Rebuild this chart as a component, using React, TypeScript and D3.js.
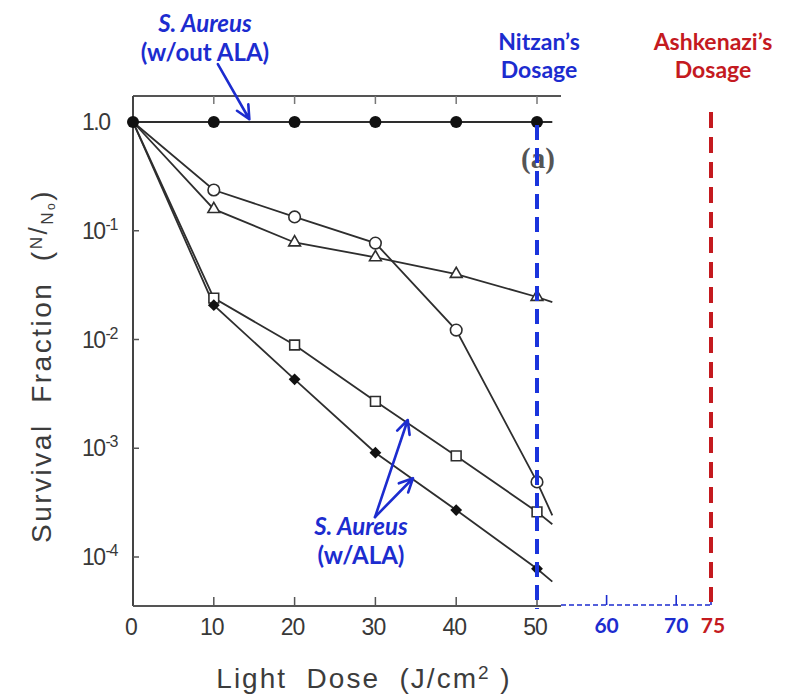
import React, { useEffect, useRef } from 'react';
import * as d3 from 'd3';

// light dose (J/cm2) at which survival was measured
const doses = [0, 10, 20, 30, 40, 50];

// survival fraction N/N0 for each curve
const aureusNoAla = [1.0, 1.0, 1.0, 1.0, 1.0, 1.0];
const openCircles = [1.0, 0.237, 0.134, 0.077, 0.0122, 0.00049];
const openTriangles = [1.0, 0.158, 0.078, 0.057, 0.04, 0.0246];
const openSquares = [1.0, 0.024, 0.0089, 0.0027, 0.00085, 0.00026];
const filledDiamonds = [1.0, 0.0207, 0.0043, 0.00091, 0.00027, 0.000078];

const xTicks = [0, 10, 20, 30, 40, 50];
const extraTicks = [60, 70];
const yTicks = [1, 0.1, 0.01, 0.001, 0.0001];
const yTickExp = ['', '-1', '-2', '-3', '-4'];

const nitzanDose = 50;
const ashkenaziDose = 75;
const lineEnd = 52.2; // curves run a little past the last measured dose

const BLUE = '#1c2ccf';
const DASH_BLUE = '#1a34dc';
const RED = '#c41a1f';
const INK = '#2e2e2e';

type Series = { values: number[]; marker: string };

const series: Series[] = [
  { values: aureusNoAla, marker: 'dot' },
  { values: openCircles, marker: 'circle' },
  { values: openTriangles, marker: 'triangle' },
  { values: openSquares, marker: 'square' },
  { values: filledDiamonds, marker: 'diamond' },
];

function App() {
  const svgRef = useRef<SVGSVGElement>(null);
  const width = 786;
  const height = 694;

  useEffect(() => {
    if (!svgRef.current) return;
    const svg = d3.select(svgRef.current);
    svg.selectAll('*').remove();

    // the original axis stops at 50, the pasted extension is a bit tighter
    const x = d3.scaleLinear().domain([0, 50, 75]).range([133, 537, 711]);
    const y = d3.scaleLog().domain([1e-4, 1]).range([557, 122]);

    const top = 96;
    const bottom = 606;
    const left = x(0);
    const axisRight = 561;

    const g = svg.append('g');

    // frame
    g.append('line').attr('x1', left).attr('x2', axisRight).attr('y1', top).attr('y2', top)
      .attr('stroke', '#555').attr('stroke-width', 2);
    g.append('line').attr('x1', left).attr('x2', left).attr('y1', top).attr('y2', bottom)
      .attr('stroke', '#444').attr('stroke-width', 2);
    g.append('line').attr('x1', left).attr('x2', axisRight).attr('y1', bottom).attr('y2', bottom)
      .attr('stroke', '#555').attr('stroke-width', 2);

    // ticks
    xTicks.slice(1).forEach(t => {
      g.append('line').attr('x1', x(t)).attr('x2', x(t)).attr('y1', top).attr('y2', top + 8)
        .attr('stroke', '#777').attr('stroke-width', 1.5);
      g.append('line').attr('x1', x(t)).attr('x2', x(t)).attr('y1', bottom).attr('y2', bottom - 9)
        .attr('stroke', '#555').attr('stroke-width', 1.5);
    });
    yTicks.slice(1).forEach(t => {
      g.append('line').attr('x1', left).attr('x2', left + 6).attr('y1', y(t)).attr('y2', y(t))
        .attr('stroke', '#555').attr('stroke-width', 1.5);
    });

    // tick labels
    xTicks.forEach(t => {
      g.append('text').attr('x', x(t) - 2).attr('y', 635).attr('text-anchor', 'middle')
        .style('font-family', 'Liberation Sans, sans-serif').style('font-size', '23px')
        .style('fill', '#383838').style('letter-spacing', '-1px').text(t);
    });
    yTicks.forEach((t, i) => {
      const txt = g.append('text').attr('x', 82).attr('y', y(t) + 8)
        .style('font-family', 'Liberation Sans, sans-serif').style('font-size', '23px')
        .style('fill', '#383838').style('letter-spacing', '-1.5px');
      if (i === 0) {
        txt.text('1.0');
      } else {
        txt.append('tspan').text('10');
        txt.append('tspan').attr('dy', -9).attr('dx', 1).style('font-size', '16px').text(yTickExp[i]);
      }
    });

    // extended dose axis (dotted)
    g.append('line').attr('x1', axisRight).attr('x2', x(ashkenaziDose)).attr('y1', bottom - 1).attr('y2', bottom - 1)
      .attr('stroke', BLUE).attr('stroke-width', 1.6).attr('stroke-dasharray', '5,3');
    [...extraTicks, ashkenaziDose].forEach(t => {
      g.append('line').attr('x1', x(t)).attr('x2', x(t)).attr('y1', bottom - 1).attr('y2', bottom - 11)
        .attr('stroke', BLUE).attr('stroke-width', 1.6);
    });
    extraTicks.forEach(t => {
      g.append('text').attr('x', x(t)).attr('y', 633).attr('text-anchor', 'middle')
        .style('font-family', 'Lato, sans-serif').style('font-weight', 700).style('font-size', '21px')
        .style('fill', BLUE).text(t);
    });
    g.append('text').attr('x', x(ashkenaziDose) + 2).attr('y', 633).attr('text-anchor', 'middle')
      .style('font-family', 'Lato, sans-serif').style('font-weight', 700).style('font-size', '21px')
      .style('fill', RED).text(ashkenaziDose);

    // curves
    const line = d3.line<[number, number]>().x(d => x(d[0])).y(d => y(d[1]));
    series.forEach(s => {
      const n = s.values.length;
      const last = s.values[n - 1];
      const prev = s.values[n - 2];
      const endVal = last * Math.pow(last / prev, (lineEnd - doses[n - 1]) / (doses[n - 1] - doses[n - 2]));
      const pts: [number, number][] = doses.map((d, i) => [d, s.values[i]]);
      pts.push([lineEnd, endVal]);
      g.append('path').datum(pts).attr('d', line).attr('fill', 'none')
        .attr('stroke', INK).attr('stroke-width', 1.8);
    });

    // markers
    series.forEach(s => {
      s.values.forEach((v, i) => {
        const cx = x(doses[i]);
        const cy = y(v);
        if (s.marker === 'dot') {
          g.append('circle').attr('cx', cx).attr('cy', cy).attr('r', 6).attr('fill', '#111');
        } else if (i === 0) {
          return;
        } else if (s.marker === 'circle') {
          g.append('circle').attr('cx', cx).attr('cy', cy).attr('r', 5.8)
            .attr('fill', '#fff').attr('stroke', INK).attr('stroke-width', 1.6);
        } else if (s.marker === 'triangle') {
          g.append('path').attr('d', d3.symbol().type(d3.symbolTriangle).size(60)())
            .attr('transform', `translate(${cx},${cy})`)
            .attr('fill', '#fff').attr('stroke', INK).attr('stroke-width', 1.6);
        } else if (s.marker === 'square') {
          g.append('path').attr('d', d3.symbol().type(d3.symbolSquare).size(95)())
            .attr('transform', `translate(${cx},${cy})`)
            .attr('fill', '#fff').attr('stroke', INK).attr('stroke-width', 1.6);
        } else if (s.marker === 'diamond') {
          g.append('path').attr('d', d3.symbol().type(d3.symbolSquare).size(70)())
            .attr('transform', `translate(${cx},${cy}) rotate(45)`)
            .attr('fill', '#111');
        }
      });
    });

    // panel label, sits under the blue dose line
    g.append('text').attr('x', x(nitzanDose) + 1).attr('y', 168).attr('text-anchor', 'middle')
      .style('font-family', 'Liberation Serif, serif').style('font-size', '29px').style('font-weight', 700)
      .style('fill', '#555').text('(a)');

    // dose markers
    g.append('line').attr('x1', x(nitzanDose)).attr('x2', x(nitzanDose)).attr('y1', y(1) + 3).attr('y2', bottom + 3)
      .attr('stroke', DASH_BLUE).attr('stroke-width', 4).attr('stroke-dasharray', '15,8');
    g.append('line').attr('x1', x(ashkenaziDose)).attr('x2', x(ashkenaziDose)).attr('y1', 112).attr('y2', bottom - 4)
      .attr('stroke', RED).attr('stroke-width', 4).attr('stroke-dasharray', '16,9');

    const label = (lines: string[], cx: number, y0: number, color: string, size: number, gap: number, italicFirst = false) => {
      lines.forEach((t, i) => {
        g.append('text').attr('x', cx).attr('y', y0 + i * gap).attr('text-anchor', 'middle')
          .style('font-family', 'Lato, sans-serif').style('font-weight', 700)
          .style('font-style', italicFirst && i === 0 ? 'italic' : 'normal')
          .style('font-size', `${size}px`).style('fill', color).text(t);
      });
    };
    label(['Nitzan\u2019s', 'Dosage'], x(nitzanDose) + 2, 50, BLUE, 23, 28);
    label(['Ashkenazi\u2019s', 'Dosage'], x(ashkenaziDose) + 2, 50, RED, 23, 28);
    label(['S. Aureus', '(w/out ALA)'], 205, 32, BLUE, 24, 29, true);
    label(['S. Aureus', '(w/ALA)'], 361, 535, BLUE, 24, 29, true);

    // arrows
    const arrow = (x1: number, y1: number, x2: number, y2: number) => {
      const a = Math.atan2(y2 - y1, x2 - x1);
      const len = 15;
      const spread = 0.45;
      g.append('path')
        .attr('d', `M${x1},${y1}L${x2},${y2}M${x2 - len * Math.cos(a - spread)},${y2 - len * Math.sin(a - spread)}L${x2},${y2}L${x2 - len * Math.cos(a + spread)},${y2 - len * Math.sin(a + spread)}`)
        .attr('fill', 'none').attr('stroke', BLUE).attr('stroke-width', 2.6)
        .attr('stroke-linecap', 'round').attr('stroke-linejoin', 'round');
    };
    arrow(x(10.5), y(3.4), x(14.4), y(1.06));
    arrow(x(29.95), y(2.33e-4), x(34.0), y(1.82e-3));
    arrow(x(29.95), y(2.33e-4), x(34.65), y(5.3e-4));

    // axis titles
    const yl = g.append('text').attr('transform', 'translate(51,366) rotate(-90)').attr('text-anchor', 'middle')
      .style('font-family', 'Liberation Sans, sans-serif').style('font-size', '28px')
      .style('fill', '#3c3c3c').style('letter-spacing', '2.5px');
    yl.append('tspan').text('Survival\u00a0\u00a0Fraction\u00a0\u00a0(');
    yl.append('tspan').attr('dy', -9).style('font-size', '17px').text('N');
    yl.append('tspan').attr('dy', 5).style('font-size', '26px').text('/');
    yl.append('tspan').attr('dy', 6).style('font-size', '17px').text('N');
    yl.append('tspan').attr('dy', 2).style('font-size', '12px').text('o');
    yl.append('tspan').attr('dy', -4).text(')');

    const xl = g.append('text').attr('x', 364).attr('y', 688).attr('text-anchor', 'middle')
      .style('font-family', 'Liberation Sans, sans-serif').style('font-size', '28px')
      .style('fill', '#3c3c3c').style('letter-spacing', '2px');
    xl.append('tspan').text('Light\u00a0\u00a0Dose\u00a0\u00a0(J/cm');
    xl.append('tspan').attr('dy', -9).style('font-size', '19px').text('2');
    xl.append('tspan').attr('dy', 9).text('\u00a0)');
  }, []);

  return (
    <svg ref={svgRef} width={width} height={height}
      style={{ position: 'absolute', left: 0, top: 0, background: '#fff' }} />
  );
}

export default App;
